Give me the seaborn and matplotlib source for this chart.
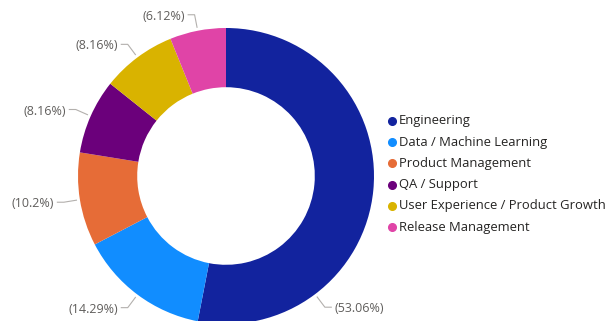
import numpy as np
import matplotlib
matplotlib.use("Agg")
import matplotlib.pyplot as plt
from matplotlib.lines import Line2D
import seaborn as sns

# Team headcount by group
categories = [
    "Engineering",
    "Data / Machine Learning",
    "Product Management",
    "QA / Support",
    "User Experience / Product Growth",
    "Release Management",
]
counts = [26, 7, 5, 4, 4, 3]
colors = ["#12239E", "#118DFF", "#E66C37", "#6B007B", "#D9B300", "#E044A7"]

sns.set_theme(style="white")
plt.rcParams["font.family"] = ["Open Sans", "DejaVu Sans"]

W, H = 610, 321
fig = plt.figure(figsize=(W / 100, H / 100), dpi=100)
fig.patch.set_facecolor("white")

# donut: centre (226, 176) px from top-left, outer radius 148 px
cx, cy, R = 226, 176, 148
ax = fig.add_axes([(cx - R) / W, (H - cy - R) / H, 2 * R / W, 2 * R / H])

wedges, _ = ax.pie(
    counts,
    colors=colors,
    startangle=90,
    counterclock=False,
    radius=1.0,
    wedgeprops=dict(width=0.4, linewidth=0),
)
ax.set_xlim(-1, 1)
ax.set_ylim(-1, 1)
ax.axis("off")

total = sum(counts)


def fmt_pct(v):
    s = f"{v:.2f}".rstrip("0").rstrip(".")
    return f"({s}%)"


# the largest slice gets its label pushed down, away from the legend
label_angle_override = {0: -53.0}

px = 1.0 / R
for i, (w, c) in enumerate(zip(wedges, counts)):
    mid = (w.theta1 + w.theta2) / 2.0
    ang = np.deg2rad(label_angle_override.get(i, mid))
    x0, y0 = 1.02 * np.cos(ang), 1.02 * np.sin(ang)
    x1, y1 = 1.11 * np.cos(ang), 1.11 * np.sin(ang)
    side = 1 if np.cos(ang) >= 0 else -1
    x2 = x1 + side * 7 * px
    ax.plot([x0, x1, x2], [y0, y1, y1], color="#B3B0AD", lw=0.8,
            clip_on=False, solid_capstyle="butt")
    ax.text(x2 + side * 3 * px, y1 - 1.5 * px, fmt_pct(c / total * 100),
            ha="left" if side > 0 else "right", va="center",
            fontsize=9.0, color="#605E5C", clip_on=False)

# legend
leg_x_dot, leg_x_txt, leg_y0, leg_dy = 392, 399, 121, 21.2
for i, (name, col) in enumerate(zip(categories, colors)):
    y = leg_y0 + i * leg_dy
    fig.add_artist(Line2D([leg_x_dot / W], [1 - y / H], marker="o",
                          markersize=5.5, color=col, linestyle="none",
                          transform=fig.transFigure))
    fig.text(leg_x_txt / W, 1 - y / H, name, ha="left", va="center",
             fontsize=9.35, color="#252423")

fig.savefig("out.png", dpi=100, facecolor="white")
